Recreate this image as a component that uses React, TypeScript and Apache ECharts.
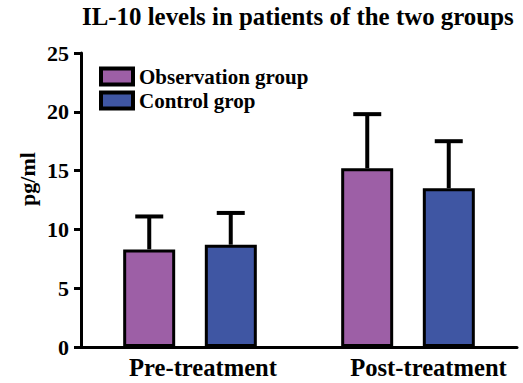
import React, { useEffect, useRef } from "react";
import * as echarts from "echarts";

const titleText = "IL-10 levels in patients of the two groups";
const categories = ["Pre-treatment", "Post-treatment"];
const seriesNames = ["Observation group", "Control grop"];
const observationMeans = [8.3, 15.2];
const observationSD = [2.8, 4.6];
const controlMeans = [8.7, 13.5];
const controlSD = [2.7, 4.0];
const yTicks = { min: 0, max: 25, interval: 5 };
const yName = "pg/ml";

const FONT = "'Liberation Serif', 'Times New Roman', serif";
const COLORS = ["#9d5fa6", "#3f56a3"];
const BAR_W = 52;
const OFFSET = 40.75;

export default function App() {
  const ref = useRef<HTMLDivElement>(null);
  useEffect(() => {
    if (!ref.current) return;
    const chart = echarts.init(ref.current, null, { renderer: "svg" });
    const means = [observationMeans, controlMeans];
    const sds = [observationSD, controlSD];

    const errSeries = means.map((m, si) => ({
      type: "custom",
      name: seriesNames[si] + " SD",
      z: 5,
      silent: true,
      encode: { x: 0, y: 1 },
      data: m.map((v, i) => [i, v, sds[si][i]]),
      renderItem: (params: any, api: any) => {
        const cat = api.value(0);
        const val = api.value(1);
        const sd = api.value(2);
        const p0 = api.coord([cat, val]);
        const p1 = api.coord([cat, val + sd]);
        const x = p0[0] + (si === 0 ? -OFFSET : OFFSET);
        const style = { stroke: "#000", lineWidth: 4, lineCap: "butt" };
        return {
          type: "group",
          children: [
            { type: "line", shape: { x1: x, y1: p0[1], x2: x, y2: p1[1] }, style },
            { type: "line", shape: { x1: x - 14, y1: p1[1], x2: x + 14, y2: p1[1] }, style },
          ],
        };
      },
    }));

    const labelStyle = { fontFamily: FONT, fontWeight: "bold", fontSize: 24.6, color: "#000" };

    chart.setOption({
      animation: false,
      title: {
        text: titleText,
        left: 82,
        top: 4,
        padding: 0,
        textStyle: { fontFamily: FONT, fontWeight: "bold", fontSize: 24.9, color: "#000" },
      },
      legend: {
        data: seriesNames,
        orient: "vertical",
        left: 99,
        top: 66,
        padding: 0,
        icon: "rect",
        itemWidth: 32,
        itemHeight: 16,
        itemGap: 3,
        itemStyle: { borderColor: "#000", borderWidth: 4 },
        textStyle: { fontFamily: FONT, fontWeight: "bold", fontSize: 21, color: "#000", padding: [0, 0, 0, 1] },
      },
      grid: { left: 81, right: 6, top: 53, bottom: 36, containLabel: false },
      xAxis: {
        type: "category",
        data: categories,
        axisLine: { lineStyle: { color: "#000", width: 3 } },
        axisTick: { alignWithLabel: true, length: 6, lineStyle: { color: "#000", width: 2.5 } },
        axisLabel: {
          interval: 0,
          hideOverlap: false,
          margin: 8,
          ...labelStyle,
          formatter: (v: string, i: number) => (i === 0 ? "{a|" + v + "}" : "{b|" + v + "}"),
          rich: {
            a: { ...labelStyle, padding: [0, 0, 0, 26] },
            b: { ...labelStyle, padding: [0, 0, 0, 41] },
          },
        },
      },
      yAxis: {
        type: "value",
        min: yTicks.min,
        max: yTicks.max,
        interval: yTicks.interval,
        splitLine: { show: false },
        axisLine: { show: true, lineStyle: { color: "#000", width: 3 } },
        axisTick: { show: true, length: 7, lineStyle: { color: "#000", width: 3 } },
        axisLabel: { fontFamily: FONT, fontWeight: "bold", fontSize: 22, color: "#000", margin: 12 },
      },
      graphic: [
        {
          type: "text",
          x: 27,
          y: 179,
          rotation: Math.PI / 2,
          style: {
            text: yName,
            fontFamily: FONT,
            fontWeight: "bold",
            fontSize: 22,
            fill: "#000",
            textAlign: "center",
            textVerticalAlign: "middle",
          },
        },
      ],
      series: [
        ...means.map((m, si) => ({
          type: "bar",
          name: seriesNames[si],
          data: m,
          barWidth: BAR_W,
          barGap: "57%",
          itemStyle: { color: COLORS[si], borderColor: "#000", borderWidth: 3 },
        })),
        ...errSeries,
      ],
    });
    return () => chart.dispose();
  }, []);
  return (
    <div
      ref={ref}
      style={{ position: "fixed", left: 0, top: 0, width: 523, height: 383, background: "#fff" }}
    />
  );
}
